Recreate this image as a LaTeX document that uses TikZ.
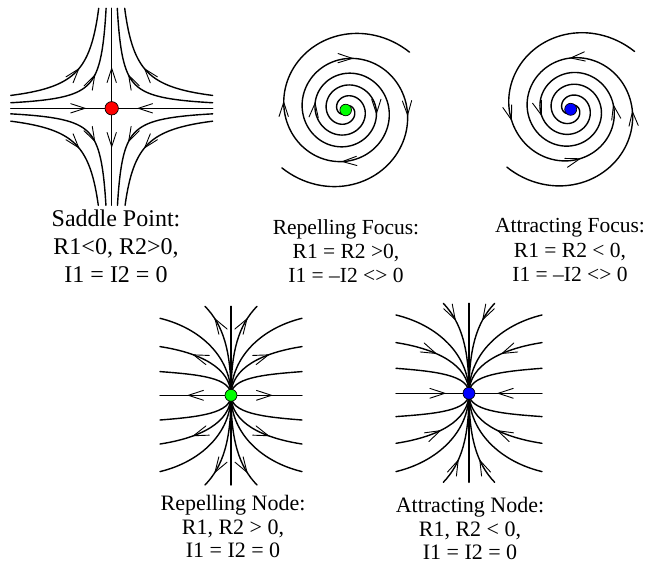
\documentclass[tikz,border=0pt]{standalone}
\usepackage{fontspec}
\setmainfont{Liberation Serif}
\usetikzlibrary{decorations.markings}
\newcommand{\barbat}[3]{\draw[barbline] (#1,#2) ++(#3+162:15) -- (#1,#2) -- ++(#3-162:15);}
% spiral arrow: cx cy u arm(+1/-1) dir(+1 out/-1 in)
\newcommand{\spbarb}[5]{%
  \pgfmathsetmacro{\rr}{spr(#3)}%
  \pgfmathsetmacro{\rd}{sprd(#3)}%
  \pgfmathsetmacro{\px}{#1+(#4)*\rr*cos(180*#3)}%
  \pgfmathsetmacro{\py}{#2+(#4)*\rr*sin(180*#3)}%
  \pgfmathsetmacro{\vx}{(#4)*(#5)*(\rd*cos(180*#3)-pi*\rr*sin(180*#3))}%
  \pgfmathsetmacro{\vy}{(#4)*(#5)*(\rd*sin(180*#3)+pi*\rr*cos(180*#3))}%
  \pgfmathsetmacro{\ang}{atan2(\vy,\vx)}%
  \barbat{\px}{\py}{\ang}}
% hyperbola arrow: cx cy c s sx sy
\newcommand{\hypbarb}[6]{%
  \pgfmathsetmacro{\px}{#1+(#5)*(#4)}%
  \pgfmathsetmacro{\py}{#2+(#6)*(#3)/(#4)}%
  \pgfmathsetmacro{\ang}{atan2((#6)*(#3)/((#4)*(#4)),0-(#5))}%
  \barbat{\px}{\py}{\ang}}
\begin{document}
\begin{tikzpicture}[x=1pt,y=-1pt,
  curve/.style={line width=1.4pt, line cap=round, line join=round},
  barbline/.style={line width=0.9pt, line cap=round, line join=miter},
  dot/.style={circle, draw=black, line width=0.7pt, inner sep=0pt},
  lbl/.style={inner sep=0pt, anchor=base},
  sadfont/.style={font=\fontsize{24}{28}\selectfont},
  focfont/.style={font=\fontsize{21.5}{24}\selectfont},
  nodfont/.style={font=\fontsize{22}{24}\selectfont},
  fwdb/.style={postaction={decorate,decoration={markings,mark=at position #1 with {\draw[barbline] (-15,4.9) -- (0,0) -- (-15,-4.9);}}}},
  revb/.style={postaction={decorate,decoration={markings,mark=at position #1 with {\draw[barbline] (15,4.9) -- (0,0) -- (15,-4.9);}}}},
  declare function={spr(\u)=8.4+10.6*(\u-1)+10.7*exp(1.22*(\u-5)); sprd(\u)=10.6+13.05*exp(1.22*(\u-5));}
]
\useasboundingbox (0,0) rectangle (649,568);

% ================= Saddle point =================
\coordinate (sc) at (111.7,108.3);
\draw[curve] (sc) -- +(-101,0);
\draw[curve] (sc) -- +(101,0);
\draw[curve] (sc) -- +(0,-100);
\draw[curve] (sc) -- +(0,97);
\foreach \cc/\lt/\lb in {1300/2.5649/2.5954, 560/1.7228/1.7532} {
  \foreach \sx in {-1,1} {
    \draw[curve] plot[domain=\lt:4.6151, samples=80, variable=\s] ({111.7+\sx*exp(\s)},{108.3-\cc/exp(\s)});
    \draw[curve] plot[domain=\lb:4.6151, samples=80, variable=\s] ({111.7+\sx*exp(\s)},{108.3+\cc/exp(\s)});
  }
}
\barbat{85}{108.3}{0}
\barbat{138.3}{108.3}{180}
\barbat{111.7}{68.3}{-90}
\barbat{111.7}{146.7}{90}
\hypbarb{111.7}{108.3}{1300}{33}{-1}{-1}
\hypbarb{111.7}{108.3}{1300}{33}{1}{-1}
\hypbarb{111.7}{108.3}{1300}{33}{-1}{1}
\hypbarb{111.7}{108.3}{1300}{33}{1}{1}
\hypbarb{111.7}{108.3}{560}{17}{-1}{-1}
\hypbarb{111.7}{108.3}{560}{17}{1}{-1}
\hypbarb{111.7}{108.3}{560}{17}{-1}{1}
\hypbarb{111.7}{108.3}{560}{17}{1}{1}
\node[dot, fill=red, minimum size=13.4pt] (sdot) at (sc) {};

% ================= Repelling focus =================
\draw[curve] plot[domain=0.3:5.77, samples=300, variable=\u] ({345.7+spr(\u)*cos(180*\u)},{110+spr(\u)*sin(180*\u)});
\draw[curve] plot[domain=0.3:5.77, samples=300, variable=\u] ({345.7-spr(\u)*cos(180*\u)},{110-spr(\u)*sin(180*\u)});
\spbarb{345.7}{110}{3.07}{1}{1}
\spbarb{345.7}{110}{4.52}{1}{1}
\spbarb{345.7}{110}{5.04}{1}{1}
\spbarb{345.7}{110}{3.036}{-1}{1}
\spbarb{345.7}{110}{4.54}{-1}{1}
\spbarb{345.7}{110}{5.026}{-1}{1}
\node[dot, fill=green, minimum size=11.6pt] (rfdot) at (345.7,110) {};

% ================= Attracting focus =================
\draw[curve] plot[domain=0.3:5.77, samples=300, variable=\u] ({570.7+spr(\u)*cos(180*\u)},{109.3+spr(\u)*sin(180*\u)});
\draw[curve] plot[domain=0.3:5.77, samples=300, variable=\u] ({570.7-spr(\u)*cos(180*\u)},{109.3-spr(\u)*sin(180*\u)});
\spbarb{570.7}{109.3}{2.936}{1}{-1}
\spbarb{570.7}{109.3}{4.442}{1}{-1}
\spbarb{570.7}{109.3}{4.944}{1}{-1}
\spbarb{570.7}{109.3}{3.97}{1}{-1}
\spbarb{570.7}{109.3}{4.5}{-1}{-1}
\spbarb{570.7}{109.3}{5.012}{-1}{-1}
\node[dot, fill=blue, minimum size=12pt] (afdot) at (570.7,109.3) {};

% ================= Repelling node =================
\coordinate (rn) at (231,395.3);
\draw[curve] (rn) -- +(0,-89);
\draw[curve] (rn) -- +(0,89.7);
\draw[curve, fwdb=0.6] (rn) -- +(-71,0);
\draw[curve, fwdb=0.57] (rn) -- +(71,0);
\foreach \sx in {-1,1} \foreach \sy/\dd in {-1/23.7,-1/77,1/24.7,1/76.3} {
  \draw[curve] (rn) .. controls +(0,{\sy*(0.4*\dd+8)}) and +({0-(\sx)*0.56*71},{0-(\sy)*0.125*\dd}) .. +(\sx*71,\sy*\dd);
}
\foreach \sx in {-1,1} \foreach \sy/\dd in {-1/48.7,1/48.7} {
  \draw[curve, fwdb=0.63] (rn) .. controls +(0,{\sy*(0.4*\dd+8)}) and +({0-(\sx)*0.56*71},{0-(\sy)*0.125*\dd}) .. +(\sx*71,\sy*\dd);
}
\foreach \sx in {-1,1} \foreach \sy/\hh in {-1/89,1/89.7} {
  \draw[curve, fwdb=0.83] (rn) .. controls +(0,{\sy*0.5*\hh}) and +({0-(\sx)*0.7*26},{0-(\sy)*0.21*\hh}) .. +(\sx*26,\sy*\hh);
}
\node[dot, fill=green, minimum size=12pt] (rndot) at (rn) {};

% ================= Attracting node =================
\coordinate (an) at (469,393.3);
\draw[curve] (an) -- +(0,-90);
\draw[curve] (an) -- +(0,89);
\draw[curve, revb=0.33] (an) -- +(-73,0);
\draw[curve, revb=0.4] (an) -- +(73,0);
\foreach \sx in {-1,1} \foreach \sy/\dd in {-1/25,-1/78.3,1/23.3,1/78.3} {
  \draw[curve] (an) .. controls +(0,{\sy*(0.4*\dd+8)}) and +({0-(\sx)*0.56*73},{0-(\sy)*0.125*\dd}) .. +(\sx*73,\sy*\dd);
}
\foreach \sx in {-1,1} {
  \draw[curve, revb=0.57] (an) .. controls +(0,{-(0.4*50.7+8)}) and +({0-(\sx)*0.56*73},{0.125*50.7}) .. +(\sx*73,-50.7);
  \draw[curve, revb=0.52] (an) .. controls +(0,{0.4*50+8}) and +({0-(\sx)*0.56*73},{-0.125*50}) .. +(\sx*73,50);
  \draw[curve, revb=0.79] (an) .. controls +(0,-45) and +({0-(\sx)*0.7*25.7},{0.21*90}) .. +(\sx*25.7,-90);
  \draw[curve, revb=0.72] (an) .. controls +(0,44.5) and +({0-(\sx)*0.7*25.7},{-0.21*89}) .. +(\sx*25.7,89);
}
\node[dot, fill=blue, minimum size=12pt] (andot) at (an) {};

% ================= Labels =================
\node[lbl, sadfont] (sp1) at (116,226.7) {Saddle Point:};
\node[lbl, sadfont] (sp2) at (116,254.3) {R1<0, R2>0,};
\node[lbl, sadfont] (sp3) at (116,282.3) {I1 = I2 = 0};
\node[lbl, focfont] (rf1) at (346,234) {Repelling Focus:};
\node[lbl, focfont] (rf2) at (346,258) {R1 = R2 >0,};
\node[lbl, focfont] (rf3) at (346,282) {I1 = –I2 <> 0};
\node[lbl, focfont] (af1) at (570,232) {Attracting Focus:};
\node[lbl, focfont] (af2) at (570,257) {R1 = R2 < 0,};
\node[lbl, focfont] (af3) at (570,281) {I1 = –I2 <> 0};
\node[lbl, nodfont] (rl1) at (233,510) {Repelling Node:};
\node[lbl, nodfont] (rl2) at (233,534) {R1, R2 > 0,};
\node[lbl, nodfont] (rl3) at (233,557) {I1 = I2 = 0};
\node[lbl, nodfont] (al1) at (470,512) {Attracting Node:};
\node[lbl, nodfont] (al2) at (470,536) {R1, R2 < 0,};
\node[lbl, nodfont] (al3) at (470,559) {I1 = I2 = 0};
\end{tikzpicture}
\end{document}
